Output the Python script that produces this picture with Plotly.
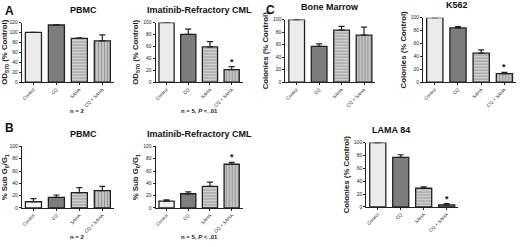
import plotly.graph_objects as go

categories = ["Control", "CQ", "SAHA", "CQ + SAHA"]

a_pbmc = [100, 115, 88, 83]
a_pbmc_err = [0, 1, 1, 12]
a_cml = [100, 80, 59, 21]
a_cml_err = [0, 9, 9, 5]
b_pbmc = [10, 17, 25, 28]
b_pbmc_err = [5, 4, 8, 7]
b_cml = [11, 23, 35, 71]
b_cml_err = [2, 3, 7, 3]
c_bm = [100, 57, 83, 75]
c_bm_err = [0, 4, 6, 13]
c_k562 = [100, 84, 45, 13]
c_k562_err = [0, 2, 5, 2]
c_lama = [100, 77, 29, 3]
c_lama_err = [0, 4, 2, 2]

W, H = 520, 247
FONT = "Liberation Sans, Arial, sans-serif"

# panel: (values, errs, x0,x1 px, ytop px, ybot px, ymax, ytitle, title, note, star, first_fill)
panels = [
    (a_pbmc, a_pbmc_err, 21, 113, 20, 81, 120, "OD<sub>570</sub> (% Control)", "PBMC", "n = 2", False, "#ebebeb"),
    (a_cml, a_cml_err, 155, 242, 20, 81, 100, "OD<sub>570</sub> (% Control)", "Imatinib-Refractory CML", "n = 5, <i>P</i> < .01", True, "#ebebeb"),
    (b_pbmc, b_pbmc_err, 21, 113, 147, 210, 100, "% Sub G<sub>0</sub>/G<sub>1</sub>", "PBMC", "n = 2", False, "#f7f7f7"),
    (b_cml, b_cml_err, 155, 242, 147, 210, 100, "% Sub G<sub>0</sub>/G<sub>1</sub>", "Imatinib-Refractory CML", "n = 5, <i>P</i> < .01", True, "#f0f0f0"),
    (c_bm, c_bm_err, 285, 375, 17, 81, 100, "Colonies (% Control)", "Bone Marrow", None, False, "#ebebeb"),
    (c_k562, c_k562_err, 423, 516, 15, 81, 100, "Colonies (% Control)", "K562", None, True, "#ebebeb"),
    (c_lama, c_lama_err, 366, 458, 143, 209, 100, "Colonies (% Control)", "LAMA 84", None, True, "#ebebeb"),
]

fig = go.Figure()
annotations = []
layout = {}
for i, (vals, errs, x0, x1, yt, yb, ymax, ytitle, title, note, star, c0) in enumerate(panels):
    n = "" if i == 0 else str(i + 1)
    fills = [c0, "#7d7d7d", "#cfcfcf", "#c4c4c4"]
    shapes = ["", "", "-", "|"]
    fig.add_trace(go.Bar(
        x=categories, y=vals,
        xaxis="x" + n, yaxis="y" + n,
        marker=dict(color=fills, line=dict(color="#222", width=1.3),
                    pattern=dict(shape=shapes, fgcolor="#b0b0b0", bgcolor=fills, size=3, solidity=0.25)),
        error_y=dict(type="data", array=errs, arrayminus=[0] * 4, symmetric=False,
                     color="#222", thickness=1.2, width=3),
        showlegend=False,
    ))
    layout["xaxis" + n] = dict(
        domain=[x0 / W, x1 / W], anchor="y" + n,
        showline=True, linecolor="#222", linewidth=1.2,
        ticks="outside", ticklen=2, tickcolor="#222",
        tickangle=-45, tickfont=dict(size=4.6, family=FONT, color="#222"),
        showgrid=False, zeroline=False, fixedrange=True,
    )
    layout["yaxis" + n] = dict(
        domain=[1 - yb / H, 1 - yt / H], anchor="x" + n,
        range=[0, ymax], dtick=20,
        showline=True, linecolor="#222", linewidth=1.2,
        ticks="outside", ticklen=2, tickcolor="#222",
        tickfont=dict(size=5, family=FONT, color="#222"),
        showgrid=False, zeroline=False,
        title=dict(text=ytitle, font=dict(size=7.8, family=FONT, color="#222", weight="bold"), standoff=3),
    )
    annotations.append(dict(
        x=(x0 + x1) / 2 / W, y=1 - (yt - 13) / H, xref="paper", yref="paper",
        text="<b>%s</b>" % title, showarrow=False, yanchor="middle",
        font=dict(size=9, family=FONT, color="#111"),
    ))
    if note:
        annotations.append(dict(
            x=(x0 + x1) / 2 / W, y=1 - (yb + 30) / H, xref="paper", yref="paper",
            text="<b>%s</b>" % note, showarrow=False, yanchor="middle",
            font=dict(size=6, family=FONT, color="#222"),
        ))
    if star:
        annotations.append(dict(
            x=categories[3], y=vals[3] + errs[3], xref="x" + n, yref="y" + n,
            text="<b>*</b>", showarrow=False, yanchor="bottom", yshift=-2,
            font=dict(size=9, family=FONT, color="#111"),
        ))

for letter, px, py in [("A", 2, 8), ("B", 2, 128), ("C", 264, 7)]:
    annotations.append(dict(
        x=px / W, y=1 - py / H, xref="paper", yref="paper", xanchor="left", yanchor="middle",
        text="<b>%s</b>" % letter, showarrow=False,
        font=dict(size=12, family=FONT, color="#111"),
    ))

fig.update_layout(
    width=W, height=H, margin=dict(l=0, r=0, t=0, b=0),
    paper_bgcolor="white", plot_bgcolor="white",
    bargap=0.3, annotations=annotations, **layout,
)
fig.write_html("out.html", config={"displayModeBar": False},
               post_script="document.body.style.margin='0';document.body.style.padding='0';")
